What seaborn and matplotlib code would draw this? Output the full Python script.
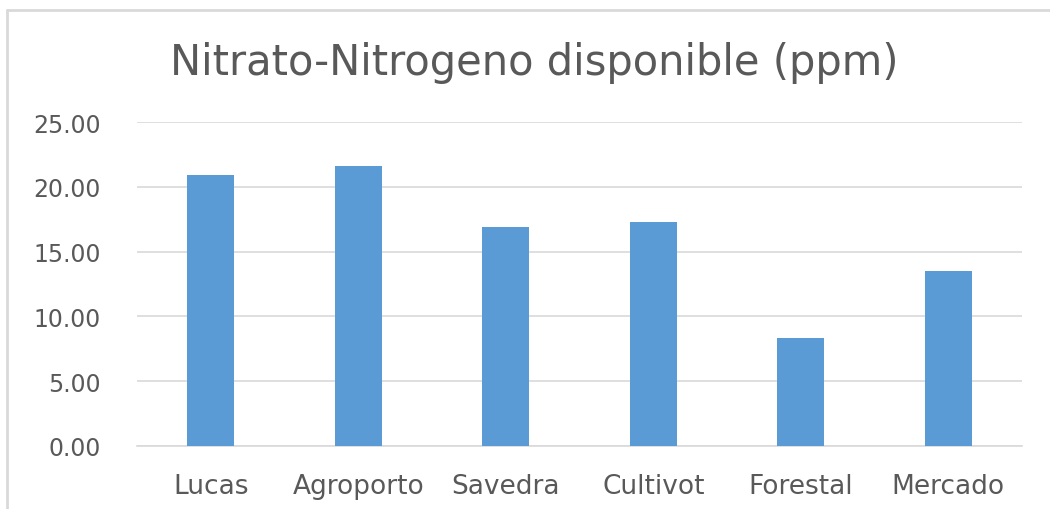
import matplotlib
matplotlib.use("Agg")
import matplotlib.pyplot as plt
import seaborn as sns
import pandas as pd
from matplotlib.lines import Line2D

categories = ["Lucas", "Agroporto", "Savedra", "Cultivot", "Forestal", "Mercado"]
values = [20.93, 21.63, 16.89, 17.33, 8.34, 13.47]
yticks = [0, 5, 10, 15, 20, 25]
title = "Nitrato-Nitrogeno disponible (ppm)"

sns.set_theme(style="white")
plt.rcParams['font.family'] = ['DejaVu Sans']

df = pd.DataFrame({"cat": categories, "val": values})

fig = plt.figure(figsize=(10.5, 5.1), dpi=100)
ax = fig.add_axes([137/1050, 1-446.7/510, (1022-137)/1050, (446.7-123.3)/510])
sns.barplot(data=df, x="cat", y="val", ax=ax, color="#5B9BD5", width=0.32,
            saturation=1, edgecolor="none", zorder=3)
ax.set_ylim(0, 25)
ax.set_xlim(-0.5, len(categories) - 0.5)
ax.set_yticks(yticks)
ax.set_yticklabels([f"{v:.2f}" for v in yticks])
ax.yaxis.grid(True, color="#D9D9D9", linewidth=1.2, zorder=0)
ax.set_axisbelow(True)
for s in ["top", "right", "left"]:
    ax.spines[s].set_visible(False)
ax.spines["bottom"].set_color("#D9D9D9")
ax.spines["bottom"].set_linewidth(1.2)
ax.set_xlabel("")
ax.set_ylabel("")
ax.tick_params(axis="y", length=0, pad=26, labelsize=17, labelcolor="#595959")
ax.tick_params(axis="x", length=0, pad=20, labelsize=19, labelcolor="#595959")

fig.text(534/1050, 1-63/510, title, ha="center", va="center", fontsize=30, color="#595959")

# chart area border
fig.add_artist(Line2D([7/1050, 1], [1-11/510, 1-11/510], color="#D9D9D9", linewidth=2, transform=fig.transFigure))
fig.add_artist(Line2D([7/1050, 7/1050], [0, 1-11/510], color="#D9D9D9", linewidth=2, transform=fig.transFigure))

fig.savefig("out.png", dpi=100)
